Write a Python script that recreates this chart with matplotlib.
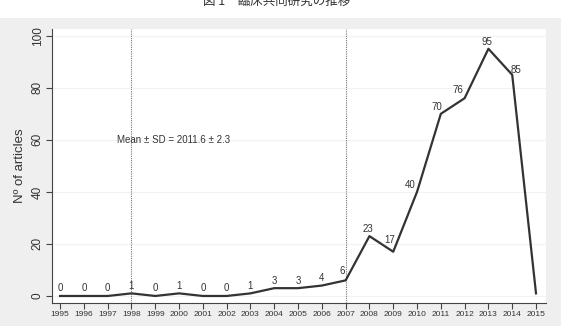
import matplotlib.pyplot as plt
from matplotlib.patches import Rectangle

plt.rcParams['font.family'] = ['Liberation Sans', 'DejaVu Sans']

# data
years = list(range(1995, 2016))
articles = [0, 0, 0, 1, 0, 1, 0, 0, 1, 3, 3, 4, 6, 23, 17, 40, 70, 76, 95, 85, 1]
labelled = years[:-1]          # 2015 has no marker label
ref_years = [1998, 2007]
note = 'Mean ± SD = 2011.6 ± 2.3'
title = '図 1　臨床共同研究の推移'

# label nudges in pixels (dx, dy), default straight above
nudge = {2007: (-3, 9), 2008: (-1, 7), 2009: (-4, 12), 2010: (-7, 7),
         2011: (-4, 7), 2012: (-7, 8), 2013: (-1, 7), 2014: (4, 5)}

W, H = 561, 326
fig = plt.figure(figsize=(W / 100, H / 100), dpi=100, facecolor='#efefef')
fig.patches.append(Rectangle((0, 1 - 18 / H), 1, 18 / H, transform=fig.transFigure,
                             facecolor='white', edgecolor='none', zorder=0))
fig.text(277 / W, 1 - 2.5 / H, title, ha='center', va='center', fontsize=9,
         color='#333333', family=['Noto Sans CJK JP', 'DejaVu Sans'])

ax = fig.add_axes([52 / W, 1 - 303 / H, (546 - 52) / W, (303 - 29) / H])
ax.set_facecolor('white')

ax.plot(years, articles, color='#333333', lw=1.6, zorder=3)
for x, y in zip(labelled, articles):
    dx, dy = nudge.get(x, (0, 7.5))
    ax.annotate(str(y), (x, y), xytext=(dx, dy), textcoords='offset pixels',
                ha='center', va='center', fontsize=7, color='#333333')

for x in ref_years:
    ax.axvline(x, color='#777777', lw=0.8, ls=(0, (1, 1)), zorder=2)
ax.text(1999.75, 60, note, ha='center', va='center', fontsize=7, color='#333333')

ax.set_xlim(1994.66, 2015.42)
ax.set_ylim(-2.7, 102.6)
ax.set_xticks(years)
ax.set_xticklabels([str(y) for y in years], fontsize=6, color='#333333')
ax.set_yticks([0, 20, 40, 60, 80, 100])
ax.set_yticklabels(['0', '20', '40', '60', '80', '100'], fontsize=8.5, rotation=90,
                   va='center', color='#333333')
ax.set_ylabel('Nº of articles', fontsize=9.5, color='#333333', labelpad=4)
ax.grid(axis='y', color='#f2f2f2', lw=0.8)
ax.set_axisbelow(True)
for s in ['top', 'right']:
    ax.spines[s].set_visible(False)
for s in ['left', 'bottom']:
    ax.spines[s].set_color('#444444')
    ax.spines[s].set_linewidth(0.8)
ax.tick_params(axis='both', direction='out', length=4, width=0.8, color='#444444', pad=2)

plt.savefig('out.png', dpi=100, facecolor=fig.get_facecolor())
